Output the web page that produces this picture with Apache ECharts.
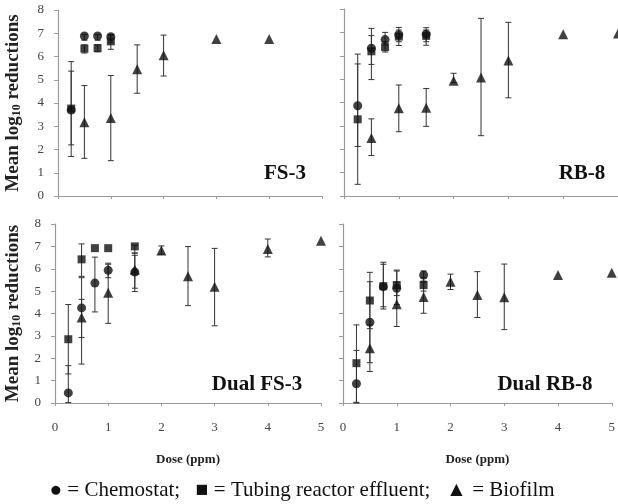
<!DOCTYPE html>
<html><head><meta charset="utf-8">
<script src="https://cdn.jsdelivr.net/npm/echarts@6/dist/echarts.min.js"></script>
<style>html,body{margin:0;padding:0;background:#fff}#c{width:618px;height:504px}</style>
</head><body><div id="c"></div>
<script>
// ---- data: each row = [dose (ppm), mean log10 reduction, error low, error high]
var panelNames = ['FS-3', 'RB-8', 'Dual FS-3', 'Dual RB-8'];
var xTicks = [0, 1, 2, 3, 4, 5];
var yTicks = [0, 1, 2, 3, 4, 5, 6, 7, 8];
var legendLabels = ['Chemostat', 'Tubing reactor effluent', 'Biofilm'];

var fs3Chemostat = [[0.25, 3.7, 2.2, 5.37], [0.5, 6.88, 6.7, 6.95], [0.75, 6.88, 6.7, 6.95], [1, 6.85, 6.6, 6.95]];
var fs3Tubing    = [[0.25, 3.76, 1.7, 5.78], [0.5, 6.34, 6.15, 6.5], [0.75, 6.36, 6.2, 6.5], [1, 6.65, 6.31, 6.9]];
var fs3Biofilm   = [[0.5, 3.17, 1.62, 4.75], [1, 3.35, 1.52, 5.18], [1.5, 5.45, 4.42, 6.5], [2, 6.05, 5.16, 6.92], [3, 6.75, 6.75, 6.75], [4, 6.75, 6.75, 6.75]];

var rb8Chemostat = [[0.25, 3.86, 2.12, 5.65], [0.5, 6.32, 5.63, 6.86], [0.75, 6.69, 6.45, 7.0], [1, 6.9, 6.6, 7.21], [1.5, 6.92, 6.6, 7.2]];
var rb8Tubing    = [[0.25, 3.28, 0.5, 6.07], [0.5, 6.19, 4.98, 7.17], [0.75, 6.37, 6.16, 6.6], [1, 6.82, 6.44, 7.1], [1.5, 6.85, 6.45, 7.1]];
var rb8Biofilm   = [[0.5, 2.48, 1.73, 3.3], [1, 3.75, 2.75, 4.75], [1.5, 3.78, 2.98, 4.6], [2, 4.93, 4.85, 5.25], [2.5, 5.07, 2.58, 7.6], [3, 5.8, 4.2, 7.43], [4, 6.92, 6.92, 6.92], [5, 6.95, 6.95, 6.95]];

var dfs3Chemostat = [[0.25, 0.45, 0.02, 1.67], [0.5, 4.25, 2.93, 5.6], [0.75, 5.36, 4.07, 6.52], [1, 5.93, 5.6, 6.25], [1.5, 5.85, 5.13, 6.6]];
var dfs3Tubing    = [[0.25, 2.85, 1.3, 4.4], [0.5, 6.42, 5.66, 7.11], [0.75, 6.92, 6.92, 6.92], [1, 6.92, 6.92, 6.92], [1.5, 7.0, 6.7, 7.05]];
var dfs3Biofilm   = [[0.5, 3.82, 1.74, 4.63], [1, 4.93, 3.56, 6.2], [1.5, 5.95, 4.98, 6.7], [2, 6.82, 6.65, 7.02], [2.5, 5.67, 4.35, 6.99], [3, 5.2, 3.45, 6.91], [4, 6.88, 6.53, 7.33], [5, 7.25, 7.25, 7.25]];

var drb8Chemostat = [[0.25, 0.86, 0.0, 2.35], [0.5, 3.61, 1.8, 5.42], [0.75, 5.2, 4.2, 6.29], [1, 5.13, 4.4, 5.94], [1.5, 5.72, 5.4, 5.9]];
var drb8Tubing    = [[0.25, 1.78, 0.03, 3.49], [0.5, 4.58, 3.32, 5.84], [0.75, 5.22, 4.3, 6.2], [1, 5.27, 4.8, 5.9], [1.5, 5.27, 5.0, 5.6]];
var drb8Biofilm   = [[0.5, 2.45, 1.41, 3.49], [1, 4.41, 3.42, 5.4], [1.5, 4.74, 4.01, 5.45], [2, 5.42, 5.07, 5.76], [2.5, 4.83, 3.82, 5.87], [3, 4.73, 3.28, 6.21], [4, 5.72, 5.72, 5.72], [5, 5.82, 5.82, 5.82]];

var panelData = [
  [fs3Chemostat, fs3Tubing, fs3Biofilm],
  [rb8Chemostat, rb8Tubing, rb8Biofilm],
  [dfs3Chemostat, dfs3Tubing, dfs3Biofilm],
  [drb8Chemostat, drb8Tubing, drb8Biofilm]
];

// ---- chart
var FONT = '"Liberation Serif", "Times New Roman", serif';
var AXC = '#9a9a9a';
var grids = [
  {left: 58, top: 10, width: 264, height: 186},
  {left: 344, top: 9, width: 276, height: 187},
  {left: 55, top: 224, width: 266, height: 179},
  {left: 343, top: 224, width: 277, height: 179}
];
var xAxes = [], yAxes = [], series = [];
var symbols = ['circle', 'rect', 'triangle'];
var sizes = [9, 8, 10];

function renderErr(params, api) {
  var x = api.value(0), lo = api.value(2), hi = api.value(3);
  if (hi - lo < 0.05) return null;
  var a = api.coord([x, hi]), b = api.coord([x, lo]);
  var w = 3;
  var st = {stroke: '#333', lineWidth: 1};
  return {type: 'group', children: [
    {type: 'line', shape: {x1: a[0], y1: a[1], x2: b[0], y2: b[1]}, style: st},
    {type: 'line', shape: {x1: a[0] - w, y1: a[1], x2: a[0] + w, y2: a[1]}, style: st},
    {type: 'line', shape: {x1: b[0] - w, y1: b[1], x2: b[0] + w, y2: b[1]}, style: st}
  ]};
}

for (var i = 0; i < 4; i++) {
  var isLeft = (i % 2 === 0), isBottom = (i >= 2);
  xAxes.push({
    gridIndex: i, type: 'value', min: xTicks[0], max: xTicks[xTicks.length - 1], interval: 1,
    axisLine: {lineStyle: {color: AXC, width: 1.2}},
    axisTick: {show: true, length: 3, lineStyle: {color: AXC}},
    axisLabel: {show: isBottom, margin: 18, fontFamily: FONT, fontSize: 13, color: '#444'},
    splitLine: {show: false},
    name: isBottom ? 'Dose (ppm)' : '', nameLocation: 'middle', nameGap: 50,
    nameTextStyle: {fontFamily: FONT, fontWeight: 'bold', fontSize: 13, color: '#222'}
  });
  yAxes.push({
    gridIndex: i, type: 'value', min: yTicks[0], max: yTicks[yTicks.length - 1], interval: 1,
    axisLine: {show: true, lineStyle: {color: AXC, width: 1.2}},
    axisTick: {show: true, length: 4, lineStyle: {color: AXC}},
    axisLabel: {show: isLeft, margin: 14, fontFamily: FONT, fontSize: 13, color: '#444'},
    splitLine: {show: false},
    name: isLeft ? '{m|Mean log}{s|10}{m| reductions}' : '',
    nameLocation: 'middle', nameGap: isBottom ? 32 : 35, nameRotate: 90,
    nameTextStyle: {
      rich: {
        m: {fontFamily: FONT, fontWeight: 'bold', fontSize: 19, color: '#222', lineHeight: 19, verticalAlign: 'middle'},
        s: {fontFamily: FONT, fontWeight: 'bold', fontSize: 12, color: '#222', lineHeight: 12, verticalAlign: 'bottom', padding: [9, 0, 0, 0]}
      }
    }
  });
  for (var k = 0; k < 3; k++) {
    series.push({
      type: 'custom', xAxisIndex: i, yAxisIndex: i, renderItem: renderErr,
      data: panelData[i][k], z: 2, silent: true
    });
  }
  for (var k2 = 0; k2 < 3; k2++) {
    series.push({
      type: 'scatter', xAxisIndex: i, yAxisIndex: i, name: legendLabels[k2],
      symbol: symbols[k2], symbolSize: sizes[k2],
      itemStyle: {color: '#111'}, z: 3,
      data: panelData[i][k2].map(function (r) { return [r[0], r[1]]; })
    });
  }
}

var titlePos = [[285, 174], [582, 174], [257, 385], [545, 385]];
var graphics = panelNames.map(function (n, i) {
  return {type: 'text', x: titlePos[i][0], y: titlePos[i][1], z: 10,
    style: {text: n, font: 'bold 21px ' + FONT, fill: '#111', align: 'center', verticalAlign: 'middle'}};
});
graphics.push({
  type: 'text', x: 302, y: 490, z: 10,
  style: {
    text: '\u25CF = ' + legendLabels[0] + ';   \u25A0 = ' + legendLabels[1] + ';   \u25B2 = ' + legendLabels[2],
    font: '21px ' + FONT, fill: '#111', align: 'center', verticalAlign: 'middle'
  }
});

var chart = echarts.init(document.getElementById('c'), null, {renderer: 'canvas'});
chart.setOption({
  animation: false,
  backgroundColor: '#fff',
  grid: grids,
  xAxis: xAxes,
  yAxis: yAxes,
  series: series,
  graphic: graphics
});
</script></body></html>
